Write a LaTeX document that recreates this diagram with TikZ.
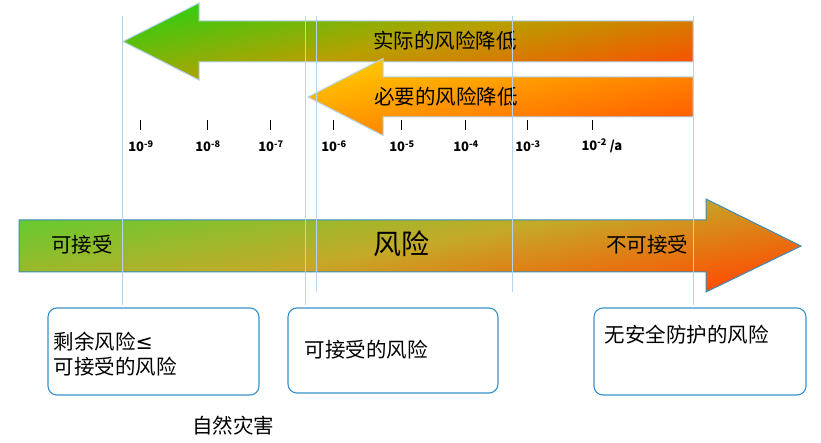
\documentclass[tikz,border=0pt]{standalone}
\usepackage{fontspec}
\newfontfamily\cjk{Noto Sans CJK SC}
\newfontfamily\symfont{DejaVu Sans}
\usetikzlibrary{positioning}

\definecolor{guideblue}{HTML}{B4D4F0}
\definecolor{boxblue}{HTML}{3590CC}
\definecolor{axisblue}{HTML}{3A8CC0}
\definecolor{riskgreen}{HTML}{36CC10}
\definecolor{riskolive}{HTML}{B8A000}
\definecolor{riskorange}{HTML}{FA5000}
\definecolor{basegreen}{HTML}{62CC30}
\definecolor{baseolive}{HTML}{C4AA28}
\definecolor{baseorange}{HTML}{FF4C00}
\definecolor{needyellow}{HTML}{FFC800}
\definecolor{needorange}{HTML}{FF5A00}

\begin{document}
\begin{tikzpicture}[x=1pt, y=-1pt,
    guide/.style={guideblue, line width=0.9pt},
    riskbox/.style={draw=boxblue, line width=1.1pt, rounded corners=9pt},
    boxtext/.style={font=\cjk\fontsize{20.5}{25}\selectfont, text=black},
    scalemark/.style={black, line width=0.8pt},
    scalelabel/.style={font=\cjk\bfseries\fontsize{13}{15}\selectfont, text=black, anchor=center}]
\useasboundingbox (0,0) rectangle (821,443);

% risk reduction arrows
\draw[draw=guideblue, line width=1pt, top color=riskgreen, bottom color=riskorange, middle color=riskolive, shading angle=12]
    (693,21) -- (199,21) -- (199,3) -- (123,41.5) -- (199,80) -- (199,62) -- (693,62) -- cycle;
\node[boxtext] (actual) at (445,41) {实际的风险降低};

\draw[draw=guideblue, line width=1pt, top color=needyellow, bottom color=needorange, shading angle=12]
    (693,77) -- (383,77) -- (383,58.5) -- (308,97) -- (383,135.5) -- (383,117) -- (693,117) -- cycle;
\node[boxtext] (needed) at (446,97) {必要的风险降低};

% scale
\foreach \xpos/\ex in {140/-9, 207/-8, 270/-7, 333/-6, 401/-5, 465/-4, 527/-3}{
    \draw[scalemark] (\xpos,120) -- (\xpos,130);
    \node[scalelabel] (lab\ex) at (\xpos+1,146) {10\textsuperscript{\ex}};
}
\draw[scalemark] (592,120) -- (592,130);
\node[scalelabel, anchor=west] (lab-2) at (578,146) {10\textsuperscript{-2} /a};

% risk axis
\draw[draw=axisblue, line width=1pt, top color=basegreen, bottom color=baseorange, middle color=baseolive, shading angle=10]
    (19,220) -- (706,220) -- (706,199) -- (801,246) -- (706,292) -- (706,272) -- (19,272) -- cycle;
\node[boxtext] (accept) at (82,245) {可接受};
\node[font=\cjk\fontsize{28}{32}\selectfont] (risk) at (401,244) {风险};
\node[boxtext] (notaccept) at (647,245) {不可接受};

% guide lines
\draw[guide] (122,16) -- (122,305);
\draw[guide] (305,16) -- (305,305);
\draw[guide] (316,16) -- (316,292);
\draw[guide] (512,16) -- (512,292);
\draw[guide] (693,16) -- (693,305);

% boxes
\draw[riskbox] (48,308) rectangle (259,395);
\node[boxtext, align=left, anchor=west] (residual) at (50,354) {剩余风险{\symfont ≤}\\可接受的风险};
\draw[riskbox] (288,308) rectangle (498,393);
\node[boxtext, anchor=west] (acceptrisk) at (301,350) {可接受的风险};
\draw[riskbox] (594,308) rectangle (806,395);
\node[boxtext, anchor=west] (unprotected) at (601,335) {无安全防护的风险};

\node[boxtext] (nature) at (233,426) {自然灾害};

\end{tikzpicture}
\end{document}
